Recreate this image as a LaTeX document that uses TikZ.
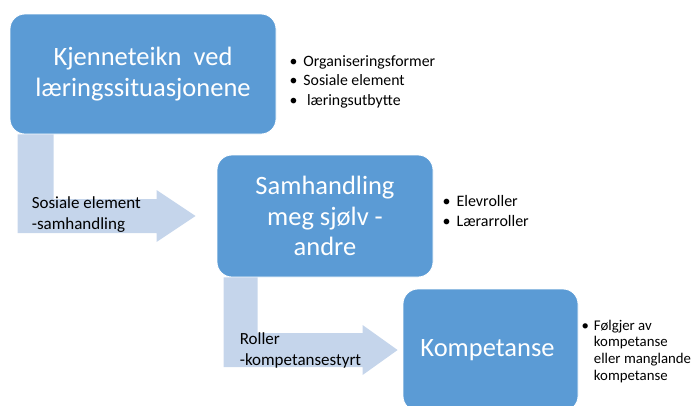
\documentclass[tikz,border=0pt]{standalone}
\usepackage{fontspec}
\setmainfont{Carlito}
\usetikzlibrary{positioning,calc}
\definecolor{boxblue}{RGB}{91,155,213}
\definecolor{arrowblue}{RGB}{197,213,235}
\tikzset{
	stagebox/.style={rectangle, rounded corners=15pt, draw=white, line width=0.8pt,
		fill=boxblue, text=white, align=center, font=\fontsize{26.5}{30.5}\selectfont},
	notelist/.style={inner sep=0pt, anchor=west, align=left, font=\fontsize{15.8}{19.5}\selectfont},
	arrowtext/.style={inner sep=0pt, anchor=west, align=left, font=\fontsize{17}{21}\selectfont},
	bentarrow/.style={fill=arrowblue},
}

\begin{document}
\begin{tikzpicture}[node distance=160pt]

\path[use as bounding box, clip] (0pt,0pt) rectangle (693pt,-405pt);

%Kjenneteikn
\node[stagebox, minimum width=266pt, minimum height=120pt] (kjenn) at (143pt,-74pt) {
	Kjenneteikn\ \ ved\\
	læringssituasjonene
	};

%Samhandling
\node[stagebox, minimum width=216pt, minimum height=122pt,
right of=kjenn, xshift=22pt, yshift=-142pt] (samh) {
	Samhandling\\
	meg sjølv -\\
	andre
	};

%Kompetanse
\node[stagebox, minimum width=175pt, minimum height=122pt,
right of=samh, xshift=5.5pt, yshift=-134pt] (komp) {
	Kompetanse
	};

%bullet lists
\node[notelist, right=13pt of kjenn, yshift=-8pt] (kjennlist) {
	\begin{tabular}{@{}l@{\hspace{6pt}}l@{}}
	\textbullet & Organiseringsformer\\
	\textbullet & Sosiale element\\
	\textbullet & \ læringsutbytte
	\end{tabular}
	};
\node[notelist, right=9pt of samh, yshift=4pt, font=\fontsize{16}{20}\selectfont] (samhlist) {
	\begin{tabular}{@{}l@{\hspace{6pt}}l@{}}
	\textbullet & Elevroller\\
	\textbullet & Lærarroller
	\end{tabular}
	};
\node[notelist, right=3pt of komp, yshift=-2pt, font=\fontsize{14.8}{16.8}\selectfont] (komplist) {
	\begin{tabular}{@{}l@{\hspace{5pt}}l@{}}
	\textbullet & Følgjer av\\
	 & kompetanse\\
	 & eller manglande\\
	 & kompetanse
	\end{tabular}
	};

%Paths
%Kjenneteikn to Samhandling
\fill[bentarrow] let \p1=([xshift=8pt]kjenn.south west), \p2=([xshift=-21pt]samh.west) in
	(\x1,\y1) -- (\x1+36pt,\y1) -- (\x1+36pt,\y2+17pt) -- (\x2-39pt,\y2+17pt)
	-- (\x2-39pt,\y2+26pt) -- (\p2) -- (\x2-39pt,\y2-26pt) -- (\x2-39pt,\y2-17pt)
	-- (\x1,\y2-17pt) -- cycle;
%Samhandling to Kompetanse
\fill[bentarrow] let \p1=([xshift=7pt]samh.south west), \p2=([xshift=-5pt]komp.west) in
	(\x1,\y1) -- (\x1+34pt,\y1) -- (\x1+34pt,\y2+17pt) -- (\x2-35pt,\y2+17pt)
	-- (\x2-35pt,\y2+25pt) -- (\p2) -- (\x2-35pt,\y2-25pt) -- (\x2-35pt,\y2-17pt)
	-- (\x1,\y2-17pt) -- cycle;

%arrow labels
\node[arrowtext, xshift=22pt, yshift=1.5pt] (sosial) at (kjenn.south west |- samh.west) {
	Sosiale element\\
	-samhandling
	};
\node[arrowtext, xshift=23pt] (roller) at (samh.south west |- komp.west) {
	Roller\\
	-kompetansestyrt
	};

\end{tikzpicture}
\end{document}
